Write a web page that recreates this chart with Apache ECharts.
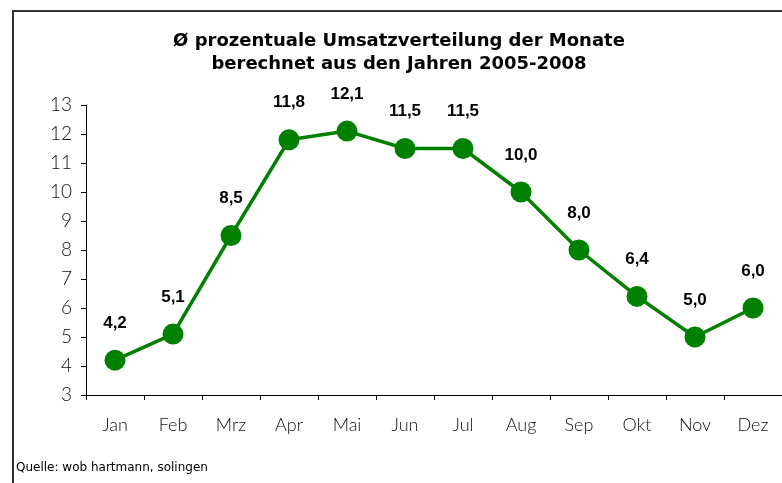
<!DOCTYPE html>
<html><head><meta charset="utf-8">
<script src="https://cdn.jsdelivr.net/npm/echarts@6/dist/echarts.min.js"></script>
<style>html,body{margin:0;padding:0;background:#fff}#c{width:782px;height:483px}</style>
</head><body><div id="c"></div>
<script>
const months = ['Jan','Feb','Mrz','Apr','Mai','Jun','Jul','Aug','Sep','Okt','Nov','Dez'];
const shares = [4.2, 5.1, 8.5, 11.8, 12.1, 11.5, 11.5, 10.0, 8.0, 6.4, 5.0, 6.0];
const titleLines = ['Ø prozentuale Umsatzverteilung der Monate','berechnet aus den Jahren 2005-2008'];
const source = 'Quelle: wob hartmann, solingen';

const chart = echarts.init(document.getElementById('c'), null, {renderer:'canvas'});
chart.setOption({
  animation:false,
  backgroundColor:'#fff',
  title:{
    text: titleLines.join('\n'),
    left: 394, top: 25, textAlign:'center',
    textStyle:{fontFamily:'"DejaVu Sans", Arial', fontWeight:'bold', fontSize:18, lineHeight:23, color:'#000'}
  },
  graphic:[
    {type:'polyline', shape:{points:[[13,483],[13,11],[782,11]]}, style:{stroke:'#333', lineWidth:2, fill:null}},
    {type:'text', left:16, top:462, style:{text:source, font:'12px "DejaVu Sans", Arial', fill:'#000'}}
  ],
  grid:{left:86, top:105, width:698, height:290},
  xAxis:{
    type:'category', data:months, boundaryGap:true,
    axisLine:{lineStyle:{color:'#000', width:1}},
    axisTick:{show:true, length:5, inside:false, lineStyle:{color:'#000'}},
    axisLabel:{fontFamily:'Lato, "Noto Sans"', fontWeight:300, fontSize:18, color:'#111', margin:21}
  },
  yAxis:{
    type:'value', min:3, max:13, interval:1,
    splitLine:{show:false},
    axisLine:{show:true, lineStyle:{color:'#000', width:1}},
    axisTick:{show:true, length:5, lineStyle:{color:'#000'}},
    axisLabel:{fontFamily:'Lato, "Noto Sans"', fontWeight:300, fontSize:19, color:'#111', margin:14}
  },
  series:[{
    type:'line', data:shares,
    symbol:'circle', symbolSize:21,
    lineStyle:{color:'#008000', width:3.5},
    itemStyle:{color:'#008000'},
    label:{show:true, position:'top', distance:18,
      formatter:p=>p.value.toFixed(1).replace('.',','),
      fontFamily:'Liberation Sans, Arial', fontWeight:'bold', fontSize:17, color:'#000'}
  }]
});
</script></body></html>
